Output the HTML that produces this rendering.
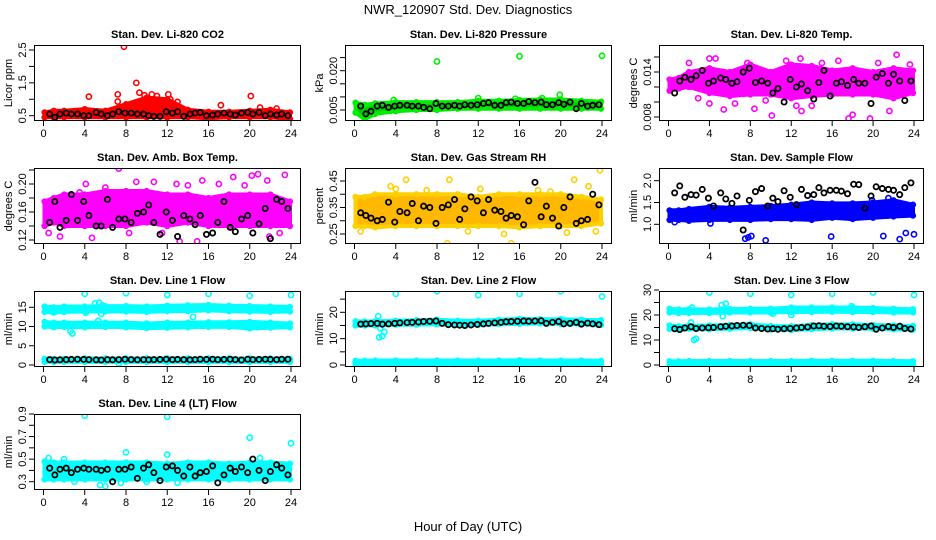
<!DOCTYPE html>
<html><head><meta charset="utf-8"><title>NWR_120907 Std. Dev. Diagnostics</title>
<style>
html,body{margin:0;padding:0;background:#fff;}
svg{display:block;font-family:"Liberation Sans",Arial,sans-serif;}
</style></head>
<body>
<svg id="chart" width="936" height="540" viewBox="0 0 936 540" xmlns="http://www.w3.org/2000/svg">
<rect x="0" y="0" width="936" height="540" fill="#fff"/>
<text x="468" y="14" font-size="13" text-anchor="middle">NWR_120907  Std. Dev. Diagnostics</text>
<text x="468" y="531" font-size="13" text-anchor="middle">Hour of Day (UTC)</text>
</svg>
<script>
// ---------- data ----------
const xTicks = [0,4,8,12,16,20,24];
const bandHours = [0,1,2,4,6,8,10,12,14,16,18,20,22,24];
const blackHours = [0.6,1.1,1.6,2.2,2.7,3.3,3.9,4.4,5.1,5.6,6.2,6.7,7.3,7.9,8.5,9.1,9.7,10.2,10.7,11.3,11.9,12.5,13.0,13.6,14.2,14.7,15.2,15.8,16.4,16.9,17.5,18.1,18.6,19.2,19.8,20.3,20.9,21.5,22.0,22.6,23.1,23.7];

// P1 CO2
const co2Low = [0.45,0.45,0.45,0.45,0.45,0.45,0.45,0.45,0.45,0.42,0.45,0.45,0.45,0.4];
const co2High = [0.6,0.65,0.65,0.7,0.65,0.85,1.05,1.0,0.68,0.62,0.62,0.65,0.68,0.6];
const co2OutX = [7.8,9,9.3,7.2,4.4,12.1,20.1,10.5,7.2,11,9.8,12.3,13,17.2,21,22.6];
const co2OutY = [2.6,1.5,1.2,1.15,1.08,1.15,1.1,1.15,0.93,1.1,1.12,1.0,0.92,0.82,0.75,0.72];
const co2Black = [0.55,0.45,0.55,0.58,0.55,0.55,0.5,0.5,0.6,0.55,0.5,0.55,0.62,0.58,0.58,0.55,0.55,0.5,0.48,0.48,0.62,0.58,0.62,0.48,0.55,0.58,0.6,0.5,0.52,0.55,0.58,0.55,0.52,0.58,0.6,0.55,0.6,0.5,0.55,0.52,0.55,0.5];
const co2Ticks = [0.5,1,1.5,2,2.5];
const co2Labels = ["0.5","","1.5","","2.5"];

// P2 Pressure
const presLow = [0.004,0.0015,0.0035,0.0045,0.005,0.005,0.0055,0.0055,0.0055,0.0055,0.0055,0.0055,0.0055,0.0055];
const presHigh = [0.0078,0.007,0.0075,0.008,0.008,0.008,0.008,0.0085,0.0085,0.0088,0.009,0.009,0.0085,0.0082];
const presOutX = [8,16,24,19.9,18.2,15.6,12,3.8,1];
const presOutY = [0.0235,0.0255,0.0257,0.0108,0.0095,0.0093,0.0095,0.0088,0.0012];
const presBlack = [0.0065,0.0035,0.0045,0.0065,0.0068,0.006,0.0065,0.0068,0.0068,0.0065,0.0065,0.006,0.0055,0.0075,0.0065,0.0065,0.0068,0.0065,0.007,0.0068,0.007,0.0075,0.0078,0.0068,0.0068,0.0078,0.008,0.0075,0.0075,0.0082,0.0078,0.008,0.007,0.007,0.0078,0.0072,0.008,0.0055,0.0075,0.0065,0.0068,0.007];
const presTicks = [0.005,0.010,0.015,0.020,0.025];
const presLabels = ["0.005","","","0.020",""];

// P3 Li-820 Temp
const tempLow = [0.0115,0.0118,0.012,0.0112,0.0108,0.011,0.011,0.0105,0.0108,0.011,0.011,0.011,0.0105,0.0112];
const tempHigh = [0.013,0.0132,0.014,0.0145,0.014,0.015,0.014,0.015,0.0148,0.0142,0.0145,0.014,0.0145,0.0142];
const tempOutX = [2,4,4.6,7.7,12.9,16.6,22.3,23.6,17.6,19.7,8.4,10.1,5.4,4,18,21.6,14,13,2.9,12.5,6.5,9.5,11.5,15,20.5,0.3];
const tempOutY = [0.0152,0.0158,0.0158,0.0152,0.0158,0.0155,0.0163,0.015,0.0078,0.0078,0.0091,0.0082,0.009,0.0098,0.0083,0.0088,0.0095,0.0088,0.0105,0.0095,0.0098,0.0102,0.0155,0.0152,0.0152,0.0128];
const tempBlack = [0.0112,0.0128,0.0133,0.013,0.0135,0.0142,0.0125,0.0128,0.0132,0.013,0.0125,0.0127,0.014,0.0145,0.0126,0.0128,0.0125,0.0112,0.0118,0.01,0.013,0.012,0.0124,0.0115,0.0104,0.0126,0.0142,0.0108,0.0125,0.0127,0.0122,0.013,0.0125,0.0125,0.0098,0.0133,0.0138,0.0125,0.0137,0.0128,0.0102,0.0128];
const tempTicks = [0.008,0.010,0.012,0.014,0.016];
const tempLabels = ["0.008","","","0.014",""];

// P4 Amb box temp
const ambLow = [0.14,0.145,0.14,0.14,0.14,0.14,0.145,0.14,0.145,0.14,0.14,0.14,0.14,0.14];
const ambHigh = [0.175,0.18,0.185,0.185,0.19,0.19,0.19,0.185,0.185,0.18,0.185,0.185,0.185,0.175];
const ambOutX = [7.3,9,10.7,12.9,14,15.4,18.4,20.2,20.8,23.4,21.7,4.1,1.6,4.7,13.2,14.9,21.9,22.9,6,3.5,0.5,11.5,17,19.5,8.3];
const ambOutY = [0.222,0.203,0.203,0.2,0.198,0.205,0.21,0.212,0.214,0.213,0.205,0.2,0.125,0.123,0.118,0.118,0.125,0.13,0.195,0.188,0.13,0.13,0.2,0.198,0.13];
const ambBlack = [0.145,0.175,0.138,0.148,0.185,0.148,0.175,0.155,0.14,0.14,0.178,0.138,0.15,0.15,0.145,0.158,0.16,0.17,0.145,0.128,0.16,0.148,0.125,0.155,0.15,0.142,0.155,0.128,0.13,0.145,0.175,0.138,0.132,0.15,0.155,0.13,0.143,0.165,0.122,0.178,0.175,0.165];
const ambTicks = [0.12,0.14,0.16,0.18,0.20,0.22];
const ambLabels = ["0.12","","0.16","","0.20",""];

// P5 Gas stream RH
const rhLow = [0.28,0.28,0.275,0.28,0.28,0.28,0.28,0.28,0.28,0.275,0.28,0.28,0.28,0.29];
const rhHigh = [0.39,0.39,0.40,0.40,0.40,0.40,0.40,0.39,0.40,0.40,0.40,0.40,0.39,0.38];
const rhOutX = [9.2,23.8,5,3.5,21.3,22.7,15.2,9,0.6,20.6,23.4,4,12.2,17.8,14.5,7,11,19];
const rhOutY = [0.455,0.49,0.455,0.43,0.455,0.43,0.215,0.215,0.26,0.255,0.26,0.42,0.42,0.415,0.25,0.415,0.26,0.41];
const rhBlack = [0.33,0.32,0.31,0.30,0.305,0.37,0.295,0.335,0.33,0.365,0.30,0.355,0.35,0.29,0.35,0.36,0.38,0.305,0.345,0.39,0.375,0.33,0.38,0.34,0.335,0.31,0.32,0.315,0.285,0.375,0.445,0.315,0.355,0.31,0.28,0.35,0.39,0.29,0.30,0.305,0.40,0.36];
const rhTicks = [0.25,0.30,0.35,0.40,0.45];
const rhLabels = ["0.25","","0.35","","0.45"];

// P6 Sample flow
const sfLow = [1.1,1.1,1.08,1.1,1.1,1.1,1.12,1.12,1.1,1.15,1.12,1.15,1.18,1.2];
const sfHigh = [1.32,1.32,1.35,1.4,1.38,1.4,1.42,1.45,1.5,1.48,1.48,1.5,1.55,1.45];
const sfOutX = [7.5,7.8,8.1,9.5,15.9,21,22.6,23.2,24,0.6,4.1,19.9,21.5];
const sfOutY = [0.67,0.7,0.73,0.63,0.72,0.73,0.66,0.8,0.77,1.05,1.02,1.55,1.6];
const sfBlack = [1.72,1.88,1.62,1.68,1.67,1.8,1.6,1.42,1.72,1.58,1.48,1.65,0.87,1.55,1.75,1.82,1.42,1.6,1.52,1.77,1.62,1.45,1.8,1.66,1.68,1.84,1.72,1.78,1.78,1.76,1.7,1.92,1.91,1.37,1.65,1.86,1.82,1.8,1.78,1.68,1.84,1.95];
const sfTicks = [1.0,1.5,2.0];
const sfLabels = ["1.0","1.5","2.0"];

// P7 Line 1
const l1aLow = [13.8,13.6,13.8,13.9,13.9,13.9,13.8,14,14,14.2,14,13.9,13.8,13.9];
const l1aHigh = [15.2,15,15.2,15.2,15.3,15.3,15.2,15.4,15.5,15.6,15.4,15.3,15.2,15.1];
const l1bLow = [10,9.8,9.9,9.8,9.9,9.8,9.6,9.7,9.8,9.9,9.9,9.5,9.7,9.8];
const l1bHigh = [11.2,11,11,11,11,11,10.8,11,11,11.1,11.1,11.2,11,10.8];
const l1cLow = [0.8,0.8,0.8,0.8,0.8,0.8,0.8,0.8,0.8,0.8,0.8,0.8,0.8,0.8];
const l1cHigh = [1.6,1.6,1.6,1.7,1.7,1.7,1.7,1.7,1.7,1.7,1.7,1.7,1.7,1.6];
const l1OutX = [4,8,12,16,20,24,5,5.4,5.7,5.3,2.8,2.6,14.5,5.6,4.1,7.3];
const l1OutY = [18.5,18.7,18.2,18.5,18,18.2,16,16.2,15.5,11.5,8.2,8.8,12.5,13.3,13.6,0.4];
const l1Black = [1.4,1.3,1.35,1.4,1.45,1.5,1.45,1.4,1.35,1.3,1.4,1.35,1.4,1.5,1.4,1.35,1.4,1.35,1.4,1.45,1.5,1.4,1.45,1.4,1.35,1.4,1.5,1.45,1.5,1.4,1.45,1.5,1.4,1.3,1.5,1.4,1.45,1.5,1.45,1.4,1.5,1.5];
const l1Ticks = [0,5,10,15];
const l1Labels = ["0","5","10","15"];

// P8 Line 2
const l2aLow = [15,15,15,15.3,15.3,15.5,15.2,15.2,15.5,15.6,15.8,15.6,15.4,15.2];
const l2aHigh = [16.6,16.5,16.6,16.8,17,17.2,16.8,16.8,17.2,17.5,17.4,17.4,17.2,17];
const l2bLow = [0.3,0.3,0.3,0.3,0.3,0.3,0.3,0.3,0.3,0.3,0.3,0.3,0.3,0.3];
const l2bHigh = [1.6,1.6,1.7,1.7,1.7,1.7,1.7,1.7,1.7,1.8,1.7,1.7,1.7,1.6];
const l2OutX = [4,8,12,16,20,24,2.3,2.4,2.7,2.9,2.5];
const l2OutY = [27,28,26.5,27,28,26,18.5,10.5,11,12.5,14];
const l2Black = [15.5,15.6,15.7,15.8,15.5,15.6,15.8,16,16.1,16.2,16.3,16.5,16.6,16.7,15.8,15.3,15.2,15.1,15,15.2,15.4,15.6,15.8,16,16.2,16.4,16.5,16.6,16.7,16.6,16.7,16.8,15.8,16.2,16.5,15.6,15.8,16.2,15.5,15.9,15.6,15.3];
const l2Ticks = [0,5,10,15,20,25];
const l2Labels = ["0","","10","","20",""];

// P9 Line 3
const l3aLow = [21,20.8,20.8,20.8,21,21,21,21.2,21.2,21.3,21.2,21.2,21,21];
const l3aHigh = [22.5,22.2,22.3,22.2,22.4,22.5,22.5,23,23,23,23,22.8,22.5,22.3];
const l3bLow = [14.5,14.2,14.5,14.3,14.5,14.8,14.2,14,14.3,14.6,14.6,14.5,14.3,14.2];
const l3bHigh = [15.8,15.5,15.7,15.8,16,16.3,15.6,15.5,16,16.3,16.2,16,15.8,15.6];
const l3cLow = [0.3,0.3,0.3,0.3,0.3,0.3,0.3,0.3,0.3,0.3,0.3,0.3,0.3,0.3];
const l3cHigh = [1.5,1.5,1.6,1.6,1.6,1.6,1.6,1.6,1.7,1.7,1.7,1.7,1.6,1.5];
const l3OutX = [4,8,12,16,20,24,5.2,5.6,5.3,2.5,2.7,2.2,2.3,12,10.2,17.9];
const l3OutY = [29,28.5,28,28.5,29,28,24,24.5,19.5,10,10.5,17,23,20,20.5,23.5];
const l3Black = [14.5,14.2,14.8,15.3,14.6,14.8,14.9,15,15.3,15.5,15.6,15.8,15.9,15.8,14.8,14.6,14.4,14.5,14.3,14.5,14.6,14.8,15,15.2,15.6,15.7,15.5,15.4,15.6,15.5,15.3,15.2,15.0,15.3,15.6,14.3,14.8,15.4,15,15.5,14.6,14.4];
const l3Ticks = [0,5,10,15,20,25,30];
const l3Labels = ["0","","10","","20","","30"];

// P10 Line 4
const l4Low = [0.32,0.32,0.32,0.32,0.32,0.32,0.32,0.32,0.32,0.32,0.32,0.32,0.32,0.32];
const l4High = [0.48,0.47,0.47,0.47,0.47,0.47,0.47,0.46,0.47,0.47,0.46,0.47,0.47,0.46];
const l4OutX = [4,12,20,24,8,5.5,6,7.5,12,2,10,13,21,0.5,3];
const l4OutY = [0.885,0.875,0.69,0.64,0.56,0.27,0.26,0.29,0.54,0.5,0.3,0.29,0.51,0.51,0.3];
const l4Black = [0.42,0.36,0.41,0.42,0.38,0.41,0.42,0.41,0.41,0.40,0.41,0.30,0.41,0.41,0.43,0.33,0.42,0.45,0.38,0.31,0.43,0.44,0.40,0.35,0.43,0.35,0.38,0.39,0.44,0.29,0.36,0.42,0.39,0.43,0.38,0.50,0.40,0.31,0.39,0.45,0.42,0.36];
const l4Ticks = [0.3,0.4,0.5,0.6,0.7,0.8,0.9];
const l4Labels = ["0.3","","0.5","","0.7","","0.9"];

// ---------- rendering ----------
const NS = "http://www.w3.org/2000/svg";
const svg = document.getElementById("chart");
const colL = [34,345,659], colR = [301,612,924];
function mk(tag, attrs, parent){
  const e = document.createElementNS(NS, tag);
  for (const k in attrs) e.setAttribute(k, attrs[k]);
  parent.appendChild(e); return e;
}
function panel(p){
  const left = colL[p.col], right = colR[p.col];
  const top = 45 + 123*p.row, bottom = 121 + 123*p.row;
  const g = mk("g", {}, svg);
  
  
  const xs = h => left + 9.5 + h*(right-left-19.5)/24;
  const ys = v => p.p0 + (v - p.v0)*(p.p1 - p.p0)/(p.v1 - p.v0);
  const cid = "clip" + p.row + p.col;
  const cp = mk("clipPath", {id:cid}, g);
  mk("rect", {x:left, y:top, width:right-left, height:bottom-top}, cp);
  const plot = mk("g", {"clip-path":"url(#"+cid+")"}, g);
  
  
  p.bands.forEach((b, bi) => {
    let pts = [];
    bandHours.forEach((h,i)=>{ pts.push(xs(Math.min(Math.max(h,0.1),23.9)).toFixed(1)+","+ys(b[1][i]).toFixed(1)); });
    for (let i=bandHours.length-1;i>=0;i--){ const h=bandHours[i]; pts.push(xs(Math.min(Math.max(h,0.1),23.9)).toFixed(1)+","+ys(b[0][i]).toFixed(1)); }
    const poly = mk("polygon", {points:pts.join(" "), fill:p.fill, stroke:p.color, "stroke-width":4, "stroke-linejoin":"round"}, plot);
    
    
    bandHours.forEach((h,i)=>{
      [b[0][i], b[1][i]].forEach(v=>{
        const c = mk("circle", {cx:xs(Math.min(Math.max(h,0.1),23.9)), cy:ys(v), r:2.4, fill:"none", stroke:p.color, "stroke-width":1.5}, plot);
        
        
      });
    });
  });
  p.outX.forEach((h,i)=>{
    const c = mk("circle", {cx:xs(h), cy:ys(p.outY[i]), r:2.6, fill:"none", stroke:p.color, "stroke-width":1.6}, plot);
    
    
  });
  blackHours.forEach((h,i)=>{
    const c = mk("circle", {cx:xs(h), cy:ys(p.black[i]), r:2.6, fill:"none", stroke:"#000", "stroke-width":1.8}, plot);
    
    
  });
  const box = mk("rect", {x:left+0.5, y:top+0.5, width:right-left-1, height:bottom-top-1, fill:"none", stroke:"#000", "stroke-width":1}, g);
  
  
  xTicks.forEach(t=>{
    const x = xs(t);
    mk("line", {x1:x, y1:bottom, x2:x, y2:bottom+5, stroke:"#000"}, g);
    const tx = mk("text", {x:x, y:bottom+16, "font-size":11, "text-anchor":"middle"}, g);
    tx.textContent = String(t);
    
    
  });
  p.ticks.forEach((t,i)=>{
    const y = ys(t);
    mk("line", {x1:left-5, y1:y, x2:left, y2:y, stroke:"#000"}, g);
    if (p.labels[i]) {
      const tx = mk("text", {x:0, y:0, "font-size":11, "text-anchor":"middle", transform:"translate("+(left-8)+","+y.toFixed(1)+") rotate(-90)"}, g);
      tx.textContent = p.labels[i];
      
      
    }
  });
  const yt = mk("text", {x:0, y:0, "font-size":11, "text-anchor":"middle", transform:"translate("+(left-22)+","+((top+bottom)/2)+") rotate(-90)"}, g);
  yt.textContent = p.ylab;
  
  
  const tt = mk("text", {x:(left+right)/2, y:top-7, "font-size":11, "font-weight":"bold", "text-anchor":"middle"}, g);
  tt.textContent = p.title;
  
  
}

panel({name:"co2-panel", row:0, col:0, title:"Stan. Dev. Li-820 CO2", ylab:"Licor ppm", v0:0.5,p0:115.7,v1:2.5,p1:50, color:"#ff0000", fill:"#ff0000",
  bands:[[co2Low,co2High]], outX:co2OutX, outY:co2OutY, black:co2Black, ticks:co2Ticks, labels:co2Labels});
panel({name:"pressure-panel", row:0, col:1, title:"Stan. Dev. Li-820 Pressure", ylab:"kPa", v0:0.005,p0:110,v1:0.020,p1:70.7, color:"#00ee00", fill:"#00cc00",
  bands:[[presLow,presHigh]], outX:presOutX, outY:presOutY, black:presBlack, ticks:presTicks, labels:presLabels});
panel({name:"licor-temp-panel", row:0, col:2, title:"Stan. Dev. Li-820 Temp.", ylab:"degrees C", v0:0.008,p0:117,v1:0.014,p1:72, color:"#ff00ff", fill:"#ff00ff",
  bands:[[tempLow,tempHigh]], outX:tempOutX, outY:tempOutY, black:tempBlack, ticks:tempTicks, labels:tempLabels});
panel({name:"amb-box-temp-panel", row:1, col:0, title:"Stan. Dev. Amb. Box Temp.", ylab:"degrees C", v0:0.12,p0:240,v1:0.20,p1:184, color:"#ff00ff", fill:"#ff00ff",
  bands:[[ambLow,ambHigh]], outX:ambOutX, outY:ambOutY, black:ambBlack, ticks:ambTicks, labels:ambLabels});
panel({name:"gas-rh-panel", row:1, col:1, title:"Stan. Dev. Gas Stream RH", ylab:"percent", v0:0.25,p0:234,v1:0.45,p1:181, color:"#ffd000", fill:"#ffb800",
  bands:[[rhLow,rhHigh]], outX:rhOutX, outY:rhOutY, black:rhBlack, ticks:rhTicks, labels:rhLabels});
panel({name:"sample-flow-panel", row:1, col:2, title:"Stan. Dev. Sample Flow", ylab:"ml/min", v0:1.0,p0:224.3,v1:2.0,p1:180.7, color:"#0000ff", fill:"#0000ff",
  bands:[[sfLow,sfHigh]], outX:sfOutX, outY:sfOutY, black:sfBlack, ticks:sfTicks, labels:sfLabels});
panel({name:"line1-flow-panel", row:2, col:0, title:"Stan. Dev. Line 1 Flow", ylab:"ml/min", v0:0,p0:365,v1:15,p1:307.3, color:"#00ffff", fill:"#00ffff",
  bands:[[l1aLow,l1aHigh],[l1bLow,l1bHigh],[l1cLow,l1cHigh]], outX:l1OutX, outY:l1OutY, black:l1Black, ticks:l1Ticks, labels:l1Labels});
panel({name:"line2-flow-panel", row:2, col:1, title:"Stan. Dev. Line 2 Flow", ylab:"ml/min", v0:0,p0:365,v1:20,p1:312.3, color:"#00ffff", fill:"#00ffff",
  bands:[[l2aLow,l2aHigh],[l2bLow,l2bHigh]], outX:l2OutX, outY:l2OutY, black:l2Black, ticks:l2Ticks, labels:l2Labels});
panel({name:"line3-flow-panel", row:2, col:2, title:"Stan. Dev. Line 3 Flow", ylab:"ml/min", v0:0,p0:365,v1:30,p1:290, color:"#00ffff", fill:"#00ffff",
  bands:[[l3aLow,l3aHigh],[l3bLow,l3bHigh],[l3cLow,l3cHigh]], outX:l3OutX, outY:l3OutY, black:l3Black, ticks:l3Ticks, labels:l3Labels});
panel({name:"line4-flow-panel", row:3, col:0, title:"Stan. Dev. Line 4 (LT) Flow", ylab:"ml/min", v0:0.3,p0:481.7,v1:0.9,p1:414, color:"#00ffff", fill:"#00ffff",
  bands:[[l4Low,l4High]], outX:l4OutX, outY:l4OutY, black:l4Black, ticks:l4Ticks, labels:l4Labels});
</script>
</body></html>
